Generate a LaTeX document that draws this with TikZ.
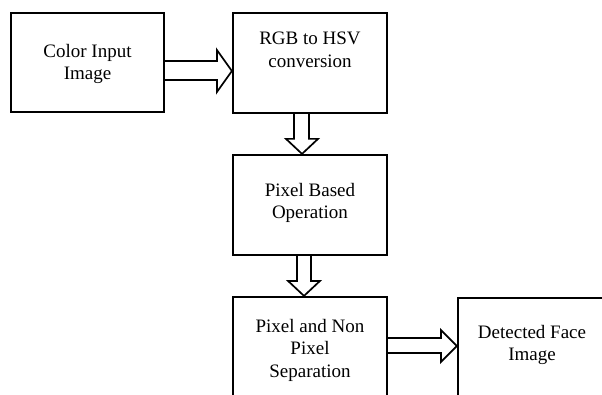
\documentclass[tikz,border=0pt]{standalone}
\usepackage{fontspec}
\setmainfont{Liberation Serif}
\usetikzlibrary{calc}
\begin{document}
\begin{tikzpicture}[x=1pt,y=1pt,
  box/.style={draw=black,line width=2.2pt,fill=white,inner sep=0pt},
  txt/.style={align=center,font=\fontsize{19}{22.5}\selectfont,inner sep=0pt},
  barrow/.style={draw=black,line width=1.7pt,line join=miter,fill=white}]
\useasboundingbox (0,0) rectangle (602,394);
\clip (0,0) rectangle (602,394);
% boxes
\node[box,minimum width=153pt,minimum height=99pt] (b1) at (87.5,331.5) {};
\node[box,minimum width=154pt,minimum height=100pt] (b2) at (310,331) {};
\node[box,minimum width=154pt,minimum height=100pt] (b3) at (310,189) {};
\node[box,minimum width=154pt,minimum height=106pt] (b4) at (310,44) {};
\node[box,minimum width=190pt,minimum height=130pt] (b5) at (553,31) {};
% texts
\node[txt] (t1) at (87.5,330) {Color Input\\Image};
\node[txt] (t2) at (310,344) {RGB to HSV\\conversion};
\node[txt] (t3) at (310,191) {Pixel Based\\Operation};
\node[txt] (t4) at (310,44) {Pixel and Non\\Pixel\\Separation};
\node[txt] (t5) at (532,49) {Detected Face\\Image};
% block arrows
\coordinate (a1) at ($(b1.east)+(0,-8.5)$);
\draw[barrow] ($(a1)+(0,10)$) -- ($(a1 -| b2.west)+(-15,10)$) -- ($(a1 -| b2.west)+(-15,21)$)
  -- (a1 -| b2.west) -- ($(a1 -| b2.west)+(-15,-21)$) -- ($(a1 -| b2.west)+(-15,-9)$) -- ($(a1)+(0,-9)$);
\draw[barrow] ($(b2.south)+(-16,0)$) -- ($(b3.north)+(-16,15)$) -- ($(b3.north)+(-24,15)$)
  -- ($(b3.north)+(-8,0)$) -- ($(b3.north)+(8,15)$) -- ($(b3.north)+(-1,15)$) -- ($(b2.south)+(-1,0)$);
\draw[barrow] ($(b3.south)+(-13,0)$) -- ($(b4.north)+(-13,15)$) -- ($(b4.north)+(-22,15)$)
  -- ($(b4.north)+(-6,0)$) -- ($(b4.north)+(10,15)$) -- ($(b4.north)+(1,15)$) -- ($(b3.south)+(1,0)$);
\coordinate (a4) at ($(b4.east)+(0,4)$);
\draw[barrow] ($(a4)+(0,8)$) -- ($(a4 -| b5.west)+(-16,8)$) -- ($(a4 -| b5.west)+(-16,16)$)
  -- (a4 -| b5.west) -- ($(a4 -| b5.west)+(-16,-16)$) -- ($(a4 -| b5.west)+(-16,-7)$) -- ($(a4)+(0,-7)$);
\end{tikzpicture}
\end{document}
